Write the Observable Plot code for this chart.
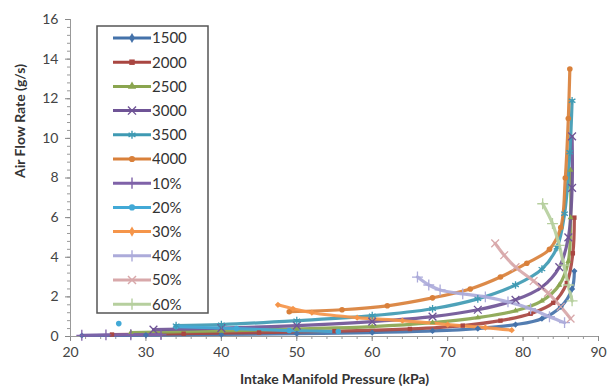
<!DOCTYPE html>
<html><head><meta charset="utf-8">
<script src="https://cdn.jsdelivr.net/npm/d3@7"></script>
<script src="https://cdn.jsdelivr.net/npm/@observablehq/plot@0.6"></script>
<style>
body{margin:0;background:#fff;font-family:Lato,"Open Sans",sans-serif;}
#wrap{position:relative;width:610px;height:392px;}
#legend{position:absolute;left:0;top:0;}
</style></head><body>
<div id="wrap"></div>
<script>
// ---- data ----
const seriesNames = ["1500","2000","2500","3000","3500","4000","10%","20%","30%","40%","50%","60%"];
const seriesColors = ["#4472aa","#a94641","#8aa54f","#6f5496","#3f9ab3","#d9803a","#7f62a8","#42a9d6","#f5954a","#acabda","#d8a8aa","#b6cf9e"];
const seriesSymbols = ["diamond2","square2","triangle2","times","asterisk","circle","plus","circle","diamond2","plus","times","plus"];

const p1500 = [21.5, 30, 40, 50, 60, 68, 74, 79, 82.5, 85, 86.5, 86.8];
const f1500 = [0.05, 0.07, 0.1, 0.14, 0.2, 0.28, 0.4, 0.6, 0.9, 1.5, 2.4, 3.3];
const p2000 = [25.5, 35, 45, 55, 65, 72, 77, 81, 84, 85.8, 86.6, 86.8];
const f2000 = [0.1, 0.14, 0.2, 0.27, 0.38, 0.55, 0.8, 1.15, 1.7, 2.7, 4.2, 6.0];
const p2500 = [28, 40, 50, 60, 68, 74, 79, 82.5, 84.8, 86, 86.3, 86.3];
const f2500 = [0.2, 0.28, 0.38, 0.5, 0.7, 0.95, 1.3, 1.8, 2.6, 3.8, 6.0, 8.4];
const p3000 = [31, 40, 50, 60, 68, 74, 79, 82.5, 84.8, 86, 86.5, 86.5];
const f3000 = [0.35, 0.42, 0.55, 0.75, 1.0, 1.35, 1.85, 2.5, 3.5, 5.0, 7.5, 10.1];
const p3500 = [34, 40, 50, 60, 68, 74, 79, 82.5, 84.5, 85.5, 86.2, 86.5];
const f3500 = [0.55, 0.6, 0.8, 1.05, 1.4, 1.9, 2.6, 3.4, 4.5, 6.2, 9.3, 11.9];
const p4000 = [49, 56, 62, 68, 73, 77, 80.5, 83.5, 85, 85.6, 86, 86.2];
const f4000 = [1.25, 1.35, 1.55, 1.95, 2.4, 3.0, 3.7, 4.4, 5.5, 8.0, 11.0, 13.5];
const p10 = [21.5, 24.7, 28, 32];
const f10 = [0.06, 0.08, 0.09, 0.1];
const p20 = [26.4, 30, 34, 42, 49, 55.5];
const f20 = [0.65, null, 0.5, 0.4, 0.3, 0.25];
const p30 = [47.5, 49.5, 52, 58, 64, 70, 75, 78.5];
const f30 = [1.6, 1.4, 1.2, 0.95, 0.8, 0.6, 0.45, 0.32];
const p40 = [66, 67.5, 69, 72, 75, 78, 81, 83.5, 85.5];
const f40 = [3.0, 2.6, 2.35, 2.15, 2.0, 1.75, 1.4, 1.0, 0.7];
const p50 = [76.3, 77.5, 79, 81.4, 83.3, 85, 86.3];
const f50 = [4.7, 4.1, 3.5, 2.8, 2.2, 1.5, 0.9];
const p60 = [82.6, 83.9, 84.8, 85.4, 86, 86.5];
const f60 = [6.7, 5.7, 4.6, 3.6, 2.6, 1.8];

const xMajor = [20, 30, 40, 50, 60, 70, 80, 90];
const yMajor = [0, 2, 4, 6, 8, 10, 12, 14, 16];
const xMinor = d3.range(20, 90.01, 2);
const yMinor = d3.range(0, 16.01, 0.4);

// ---- build table ----
const seriesP = [p1500,p2000,p2500,p3000,p3500,p4000,p10,p20,p30,p40,p50,p60];
const seriesF = [f1500,f2000,f2500,f3000,f3500,f4000,f10,f20,f30,f40,f50,f60];
const rows = seriesNames.flatMap((name, i) =>
  seriesP[i].map((p, j) => ({series: name, p, f: seriesF[i][j]})));
const strokeSyms = new Set(["times","asterisk","plus"]);
const symOf = Object.fromEntries(seriesNames.map((n,i)=>[n, seriesSymbols[i]]));
const filledRows = rows.filter(d => d.f != null && !strokeSyms.has(symOf[d.series]));
const strokedRows = rows.filter(d => d.f != null && strokeSyms.has(symOf[d.series]));

const font = "Lato, 'Open Sans', sans-serif";
const chart = Plot.plot({
  width: 610, height: 392,
  marginLeft: 70, marginRight: 12, marginTop: 19, marginBottom: 56,
  style: {fontFamily: font, background: "#fff"},
  x: {domain: [20, 90]},
  y: {domain: [0, 16]},
  color: {domain: seriesNames, range: seriesColors},
  symbol: {domain: seriesNames, range: seriesSymbols},
  marks: [
    Plot.axisX({ticks: xMinor, tickSize: 3, text: null, stroke: "#999", label: null}),
    Plot.axisY({ticks: yMinor, tickSize: 3, text: null, stroke: "#999", label: null}),
    Plot.axisX({ticks: xMajor, tickSize: 5, tickPadding: 6, fontSize: 14, color: "#444", stroke: "#888", label: null}),
    Plot.axisY({ticks: yMajor, tickSize: 5, tickPadding: 7, fontSize: 14, color: "#444", stroke: "#888", label: null}),
    Plot.ruleY([0], {stroke: "#999"}),
    Plot.ruleX([20], {stroke: "#999"}),
    Plot.line(rows, {x: "p", y: "f", z: "series", stroke: "series", strokeWidth: 3.2, curve: "catmull-rom", strokeOpacity: 0.92}),
    Plot.dot(filledRows, {x: "p", y: "f", fill: "series", symbol: "series", r: 2.8}),
    Plot.dot(strokedRows, {x: "p", y: "f", stroke: "series", symbol: "series", r: 3.6, strokeWidth: 1.3}),
    Plot.text(["Intake Manifold Pressure (kPa)"], {frameAnchor: "bottom", dy: 47, fontSize: 14, fontWeight: "bold", fill: "#333"}),
    Plot.text(["Air Flow Rate (g/s)"], {frameAnchor: "left", dx: -50, rotate: -90, fontSize: 14, fontWeight: "bold", fill: "#333"})
  ]
});
document.getElementById("wrap").appendChild(chart);

// ---- legend (inside plot area) ----
const lg = d3.select("#wrap").append("svg").attr("id","legend")
  .attr("width", 610).attr("height", 392);
lg.append("rect").attr("x", 97).attr("y", 26).attr("width", 111).attr("height", 287)
  .attr("fill", "#fff").attr("stroke", "#555").attr("stroke-width", 1.5);
const d3sym = {diamond2: d3.symbolDiamond, square2: d3.symbolSquare, triangle2: d3.symbolTriangle,
  times: d3.symbolX, asterisk: d3.symbolAsterisk, circle: d3.symbolCircle, plus: d3.symbolPlus};
seriesNames.forEach((name, i) => {
  const y = 38 + i * 24.2;
  const g = lg.append("g");
  g.append("line").attr("x1", 113).attr("x2", 151).attr("y1", y).attr("y2", y)
    .attr("stroke", seriesColors[i]).attr("stroke-width", 3);
  const stroked = strokeSyms.has(seriesSymbols[i]);
  g.append("path").attr("transform", `translate(132,${y})`)
    .attr("d", d3.symbol(d3sym[seriesSymbols[i]], stroked ? 44 : 30)())
    .attr("fill", stroked ? "none" : seriesColors[i])
    .attr("stroke", stroked ? seriesColors[i] : "none").attr("stroke-width", 1.4);
  g.append("text").attr("x", 152).attr("y", y).attr("dy", "0.36em")
    .attr("font-family", font).attr("font-size", 15).attr("fill", "#333").text(name);
});
</script>
</body></html>
